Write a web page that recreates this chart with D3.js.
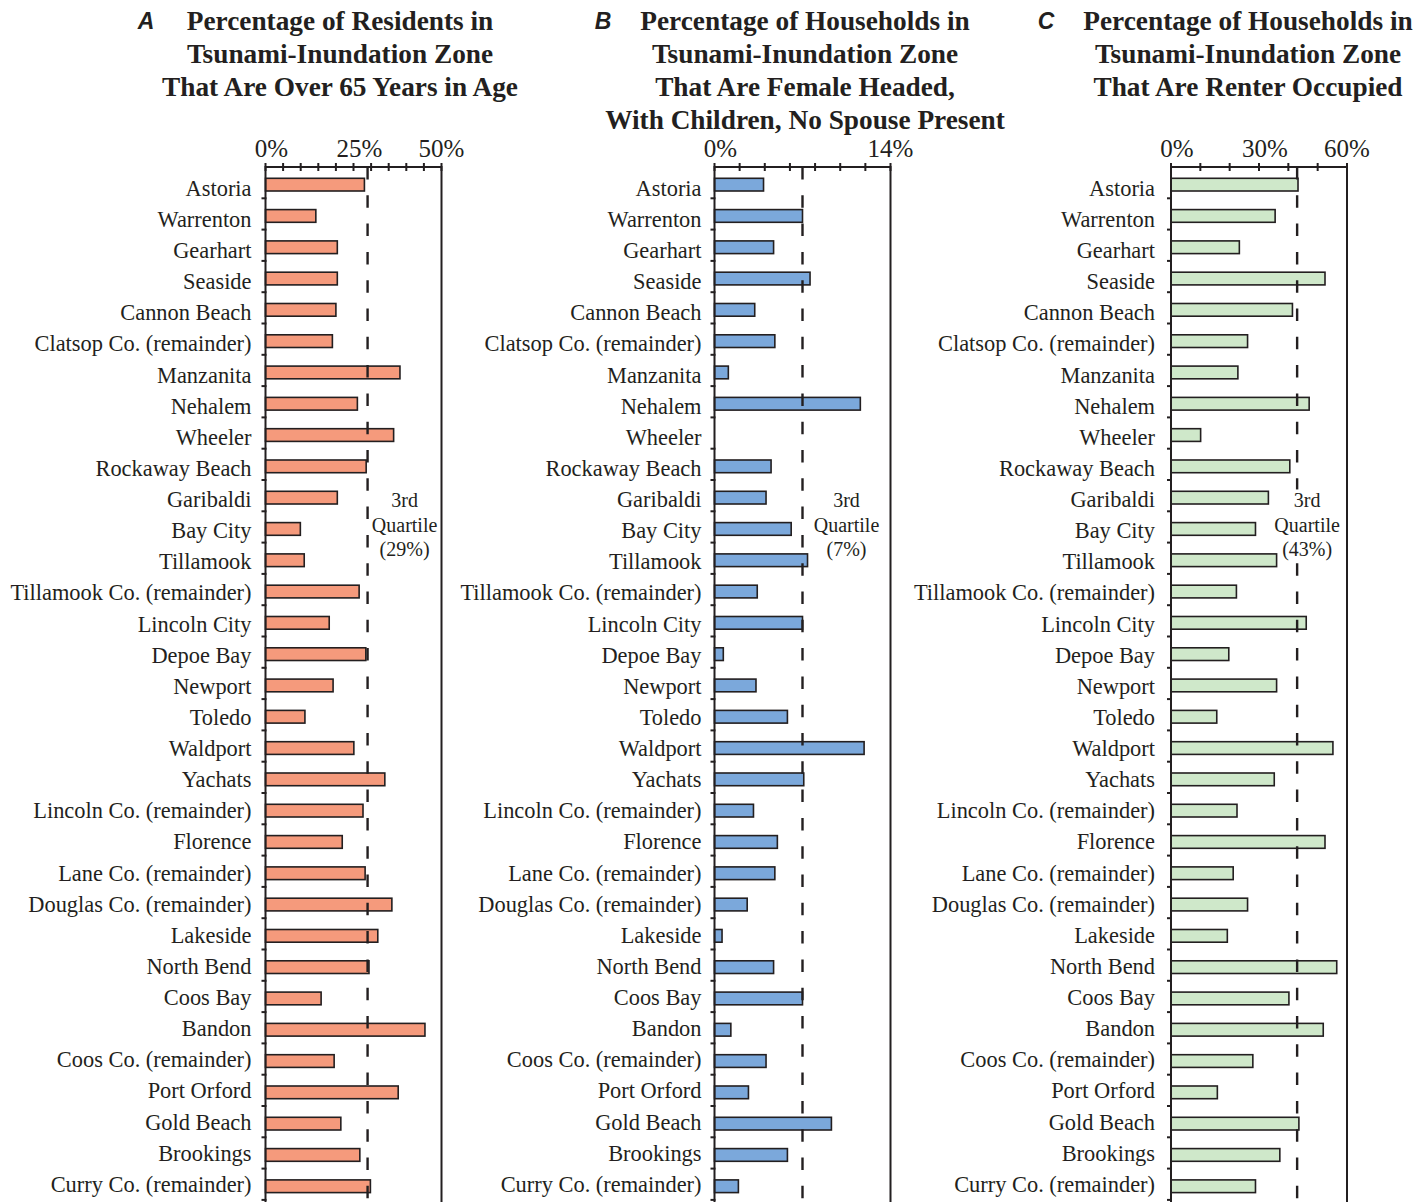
<!DOCTYPE html>
<html>
<head>
<meta charset="utf-8">
<script src="https://cdn.jsdelivr.net/npm/d3@7"></script>
<style>
  html, body { margin: 0; padding: 0; background: #fff; }
  svg { display: block; }
</style>
</head>
<body>
<script>
// Communities along the Oregon coast, north to south
const categories = [
  "Astoria", "Warrenton", "Gearhart", "Seaside", "Cannon Beach",
  "Clatsop Co. (remainder)", "Manzanita", "Nehalem", "Wheeler",
  "Rockaway Beach", "Garibaldi", "Bay City", "Tillamook",
  "Tillamook Co. (remainder)", "Lincoln City", "Depoe Bay", "Newport",
  "Toledo", "Waldport", "Yachats", "Lincoln Co. (remainder)", "Florence",
  "Lane Co. (remainder)", "Douglas Co. (remainder)", "Lakeside",
  "North Bend", "Coos Bay", "Bandon", "Coos Co. (remainder)",
  "Port Orford", "Gold Beach", "Brookings", "Curry Co. (remainder)"
];

// Percent of residents over 65
const over65 = [28.1, 14.3, 20.4, 20.4, 20.0, 19.0, 38.2, 26.1, 36.4, 28.6,
  20.4, 9.9, 11.0, 26.6, 18.1, 28.5, 19.2, 11.2, 25.1, 33.9, 27.7, 21.8,
  28.3, 35.9, 31.9, 29.4, 15.8, 45.3, 19.5, 37.7, 21.4, 26.8, 29.8];

// Percent of households female headed, with children, no spouse present
const femaleHeaded = [3.9, 7.0, 4.7, 7.6, 3.2, 4.8, 1.1, 11.6, 0, 4.5,
  4.1, 6.1, 7.4, 3.4, 7.0, 0.7, 3.3, 5.8, 11.9, 7.1, 3.1, 5.0,
  4.8, 2.6, 0.6, 4.7, 7.0, 1.3, 4.1, 2.7, 9.3, 5.8, 1.9];

// Percent of households renter occupied
const renterOccupied = [43.3, 35.5, 23.3, 52.5, 41.4, 26.1, 22.8, 47.1, 10.1, 40.5,
  33.2, 28.8, 36.0, 22.3, 46.1, 19.7, 36.0, 15.6, 55.2, 35.2, 22.5, 52.5,
  21.2, 26.1, 19.2, 56.5, 40.2, 51.9, 27.9, 15.8, 43.6, 37.1, 28.8];

const thirdQuartiles = [29, 7, 43];
const axisMax = [50, 14, 60];
const tickSteps = [5, 2, 10];
const tickLabelValues = [[0, 25, 50], [0, 14], [0, 30, 60]];
const panelLetters = ["A", "B", "C"];
const panelTitles = [
  ["Percentage of Residents in", "Tsunami-Inundation Zone", "That Are Over 65 Years in Age"],
  ["Percentage of Households in", "Tsunami-Inundation Zone", "That Are Female Headed,", "With Children, No Spouse Present"],
  ["Percentage of Households in", "Tsunami-Inundation Zone", "That Are Renter Occupied"]
];
const seriesValues = [over65, femaleHeaded, renterOccupied];

// Layout and styling
const W = 1426, H = 1202;
const panels = [
  { x0: 265.5, x1: 441.5, fill: "#f59a7c", labelGap: 14, titleX: 340, letterX: 146, qOffset: 37 },
  { x0: 714.5, x1: 890.5, fill: "#7ba8db", labelGap: 13, titleX: 805, letterX: 603, qOffset: 44 },
  { x0: 1171, x1: 1347, fill: "#cfe8ca", labelGap: 16, titleX: 1248, letterX: 1046, qOffset: 10 }
];
const plotTop = 167;
const step = 31.3;
const barH = 12.7;
const ink = "#231f20";
const serif = "'Liberation Serif', 'Times New Roman', serif";

const svg = d3.select("body").append("svg")
  .attr("width", W).attr("height", H)
  .attr("viewBox", `0 0 ${W} ${H}`);
const defs = svg.append("defs");

const y = d3.scaleBand()
  .domain(categories)
  .range([plotTop, plotTop + step * categories.length])
  .padding(0);

// Category labels sit on a slightly tighter spacing than the bars
const yLabel = d3.scalePoint()
  .domain(categories)
  .range([188, 1184]);

panels.forEach((p, i) => {
  const vals = seriesValues[i];
  const x = d3.scaleLinear().domain([0, axisMax[i]]).range([p.x0, p.x1]);
  const g = svg.append("g");

  // Title block
  const title = g.append("text")
    .attr("font-family", serif)
    .attr("font-weight", "bold")
    .attr("font-size", 27.3)
    .attr("fill", ink)
    .attr("text-anchor", "middle");
  panelTitles[i].forEach((line, k) => {
    title.append("tspan").attr("x", p.titleX).attr("y", 30 + k * 33).text(line);
  });
  g.append("text")
    .attr("x", p.letterX).attr("y", 29)
    .attr("font-family", "'Liberation Sans', Arial, sans-serif")
    .attr("font-weight", "bold").attr("font-style", "italic")
    .attr("font-size", 23).attr("fill", ink)
    .attr("text-anchor", "middle")
    .text(panelLetters[i]);

  // Bars
  g.selectAll("rect.bar")
    .data(categories.map((c, k) => ({ c, v: vals[k] })).filter(d => d.v > 0))
    .join("rect")
    .attr("class", "bar")
    .attr("x", x(0))
    .attr("y", d => y(d.c) + (y.bandwidth() - barH) / 2 + 2)
    .attr("width", d => x(d.v) - x(0))
    .attr("height", barH)
    .attr("fill", p.fill)
    .attr("stroke", ink)
    .attr("stroke-width", 1.6);

  // Quartile annotation text
  const qx = x(thirdQuartiles[i]) + p.qOffset;
  const qMid = y(categories[11]) + y.bandwidth() / 2 - 2;
  const qLines = ["3rd", "Quartile", `(${thirdQuartiles[i]}%)`];
  const qt = g.append("text")
    .attr("font-family", serif).attr("font-size", 20)
    .attr("fill", ink).attr("text-anchor", "middle");
  qLines.forEach((t, k) => {
    qt.append("tspan").attr("x", qx).attr("y", qMid + (k - 1) * 24.5).attr("dy", "0.35em").text(t);
  });
  const bb = qt.node().getBBox();

  // Mask so the dashed line stops behind the annotation
  const maskId = `qmask${i}`;
  const mask = defs.append("mask").attr("id", maskId).attr("maskUnits", "userSpaceOnUse")
    .attr("x", 0).attr("y", 0).attr("width", W).attr("height", H + 20);
  mask.append("rect").attr("x", 0).attr("y", 0).attr("width", W).attr("height", H + 20).attr("fill", "#fff");
  mask.append("rect").attr("x", bb.x - 2).attr("y", bb.y).attr("width", bb.width + 4)
    .attr("height", bb.height).attr("fill", "#000");

  // Third quartile reference line
  g.append("line")
    .attr("x1", x(thirdQuartiles[i])).attr("x2", x(thirdQuartiles[i]))
    .attr("y1", plotTop).attr("y2", H + 10)
    .attr("stroke", ink).attr("stroke-width", 2.4)
    .attr("stroke-dasharray", "12.5,15.8")
    .attr("mask", `url(#${maskId})`);

  // Frame: top axis, left axis, right edge
  g.append("line").attr("x1", p.x0).attr("x2", p.x1).attr("y1", plotTop).attr("y2", plotTop)
    .attr("stroke", ink).attr("stroke-width", 2);
  g.append("line").attr("x1", p.x0).attr("x2", p.x0).attr("y1", plotTop - 1).attr("y2", H + 10)
    .attr("stroke", ink).attr("stroke-width", 2);
  g.append("line").attr("x1", p.x1).attr("x2", p.x1).attr("y1", plotTop - 1).attr("y2", H + 10)
    .attr("stroke", ink).attr("stroke-width", 2);

  // Top axis ticks
  const ticks = d3.range(0, axisMax[i] + 0.001, tickSteps[i]);
  g.selectAll("line.xtick").data(ticks).join("line")
    .attr("class", "xtick")
    .attr("x1", d => x(d)).attr("x2", d => x(d))
    .attr("y1", plotTop - 4).attr("y2", plotTop + 4)
    .attr("stroke", ink).attr("stroke-width", 2);

  // Top axis labels
  g.selectAll("text.xlab").data(tickLabelValues[i]).join("text")
    .attr("class", "xlab")
    .attr("x", (d, k, arr) => x(d) + (k < arr.length - 1 ? 6 : 0))
    .attr("y", 157)
    .attr("font-family", serif).attr("font-size", 25)
    .attr("fill", ink).attr("text-anchor", "middle")
    .text(d => d + "%");

  // Left axis ticks at category boundaries
  g.selectAll("line.ytick").data(categories).join("line")
    .attr("class", "ytick")
    .attr("x1", p.x0 - 4).attr("x2", p.x0 + 1)
    .attr("y1", d => y(d) + y.bandwidth()).attr("y2", d => y(d) + y.bandwidth())
    .attr("stroke", ink).attr("stroke-width", 2);

  // Category labels
  g.selectAll("text.ylab").data(categories).join("text")
    .attr("class", "ylab")
    .attr("x", p.x0 - p.labelGap)
    .attr("y", d => yLabel(d))
    .attr("dy", "0.35em")
    .attr("font-family", serif).attr("font-size", 22.4)
    .attr("fill", ink).attr("text-anchor", "end")
    .text(d => d);
});
</script>
</body>
</html>
